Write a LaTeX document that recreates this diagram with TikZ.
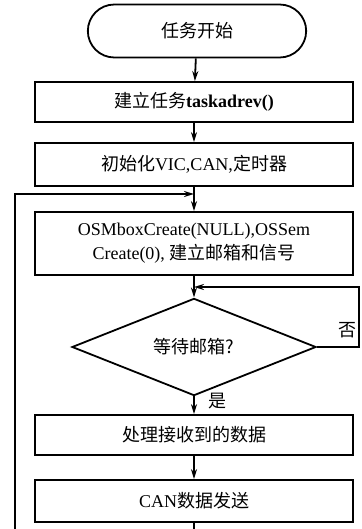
\documentclass[tikz,border=0pt]{standalone}
\usepackage{fontspec}
\setmainfont{Liberation Serif}
\newfontfamily\cjk{Noto Sans CJK SC}
\newcommand\zh[1]{{\cjk #1}}
\usetikzlibrary{shapes.geometric,shapes.misc,arrows.meta}
\begin{document}
\begin{tikzpicture}[x=1pt,y=-1pt,
  line width=1.8pt,
  arr/.style={-{Stealth[length=10pt,width=6pt]}},
  txt/.style={font=\fontsize{18}{24}\selectfont},
  box/.style={draw,rectangle,minimum width=318pt,inner sep=0pt,align=center,txt},
  lbl/.style={txt}]
\useasboundingbox (0,0) rectangle (361,529);
\node[draw,rounded rectangle,minimum width=225pt,minimum height=53pt,txt] (start) at (197,31) {\zh{任务开始}};
\node[box,minimum height=40pt] (b1) at (194,102) {\zh{建立任务}\textbf{taskadrev()}};
\node[box,minimum height=43pt] (b2) at (194,164.5) {\zh{初始化}VIC,CAN,\zh{定时器}};
\node[box,minimum height=63pt] (b3) at (194,243.5) {OSMboxCreate(NULL),OSSem\\Create(0), \zh{建立邮箱和信号}};
\node[draw,diamond,minimum width=244pt,minimum height=83pt,inner sep=0pt,txt] (d) at (194,347) {\zh{等待邮箱?}};
\node[box,minimum height=40pt] (b4) at (194,435) {\zh{处理接收到的数据}};
\node[box,minimum height=42pt] (b5) at (194,501) {CAN\zh{数据发送}};
\coordinate (j1) at (194,194);
\coordinate (j2) at (194,287);
\coordinate (bl) at (15,529);
\coordinate (bc) at (194,529);
\coordinate (r1) at (359,347);
\coordinate (r2) at (359,287);
\draw[arr] (start) -- (b1);
\draw[arr] (b1) -- (b2);
\draw[arr] (b2) -- (b3);
\draw[arr] (b3) -- (d);
\draw[arr] (d) -- (b4);
\node[lbl] (yes) at (217,401) {\zh{是}};
\draw[arr] (b4) -- (b5);
\draw (b5) -- (bc);
\draw[arr] (bl) -- (15,194) -- (j1);
\draw[arr] (d.east) -- (r1) -- (r2) -- (j2);
\node[lbl] (no) at (347,330) {\zh{否}};
\end{tikzpicture}
\end{document}
